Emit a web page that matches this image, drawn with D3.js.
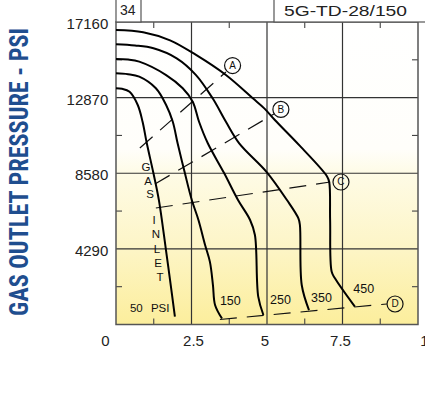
<!DOCTYPE html>
<html><head><meta charset="utf-8">
<script src="https://cdn.jsdelivr.net/npm/d3@7"></script>
<style>
html,body{margin:0;padding:0;background:#fff;}
svg{display:block;}
</style></head>
<body>
<svg id="chart" width="425" height="402"></svg>
<script>
// ---------------- data ----------------
const xTickValues = [0, 2.5, 5, 7.5, 10];
const xTickLabels = ["0", "2.5", "5", "7.5", "10"];
const yTickValues = [4290, 8580, 12870, 17160];
const yTickLabels = ["4290", "8580", "12870", "17160"];
const xMinorTicks = [1.25, 3.75, 6.25, 8.75];
const yMinorTicks = [2145, 6435, 10725, 15015];

// gas inlet pressure curves (PSI)
const inletNames = ["50", "150", "250", "350", "450"];
const x50  = [0, 0.2, 0.45, 0.72, 0.88, 1.02, 1.24, 1.42, 1.65, 1.79, 1.95];
const y50  = [13400, 13370, 13200, 12450, 11500, 10280, 8580, 7060, 4280, 2520, 440];
const x150 = [0, 0.4, 0.77, 1.32, 1.66, 1.88, 2.04, 2.28, 2.51, 2.73, 2.95, 3.11, 3.21, 3.28, 3.51];
const y150 = [14250, 14200, 14060, 13400, 12450, 11500, 10280, 8590, 7060, 5930, 4510, 3550, 2240, 1110, 340];
const x250 = [0, 0.4, 0.77, 1.66, 2.21, 2.54, 2.75, 3.04, 3.58, 4.04, 4.44, 4.60, 4.71, 4.88];
const y250 = [15060, 15030, 14910, 14150, 13400, 12640, 11500, 10280, 8590, 7060, 5930, 5080, 1580, 540];
const x350 = [0, 0.63, 1.24, 2.01, 2.65, 3.20, 3.64, 4.08, 4.99, 5.66, 6.04, 6.09, 6.15, 6.39];
const y350 = [15900, 15830, 15670, 15100, 14150, 12830, 11500, 10280, 8650, 7060, 6020, 5640, 2240, 820];
const x450 = [0, 0.90, 1.79, 2.65, 3.64, 4.53, 4.91, 5.26, 6.09, 6.98, 7.06, 7.09, 7.14, 7.25, 7.91];
const y450 = [16710, 16580, 16120, 15290, 14150, 12830, 12260, 11600, 10130, 8420, 8080, 5930, 3000, 2620, 1010];
const inletX = [x50, x150, x250, x350, x450];
const inletY = [y50, y150, y250, y350, y450];

// dashed operating-limit lines A-D
const limitNames = ["A", "B", "C", "D"];
const limitX0 = [0.79, 1.29, 1.32, 3.44];
const limitY0 = [10010, 7970, 6610, 284];
const limitX1 = [3.64, 5.23, 7.09, 8.97];
const limitY1 = [14320, 11940, 8084, 1163];
const markerX = [3.86, 5.46, 7.45, 9.24];
const markerY = [14690, 12200, 8084, 1163];

// ---------------- layout ----------------
const svg = d3.select("#chart");
const x = d3.scaleLinear().domain([0, 10]).range([116, 418]);
const y = d3.scaleLinear().domain([0, 17160]).range([324.5, 22]);
const FONT = "'Liberation Sans', Arial, Helvetica, sans-serif";

// background gradient
const defs = svg.append("defs");
const grad = defs.append("linearGradient").attr("id", "bg")
  .attr("x1", 0).attr("y1", 0).attr("x2", 0).attr("y2", 1);
[["0%", "#ffffff"], ["42%", "#fffefa"], ["50%", "#fefbe6"], ["75%", "#fdf5c6"], ["100%", "#fcee9c"]]
  .forEach(s => grad.append("stop").attr("offset", s[0]).attr("stop-color", s[1]));

svg.append("rect").attr("x", x(0)).attr("y", y(17160))
  .attr("width", x(10) - x(0)).attr("height", y(0) - y(17160))
  .attr("fill", "url(#bg)");

// grid
const gridColor = "#333";
svg.append("g").selectAll("line").data(xTickValues.slice(1, -1)).join("line")
  .attr("x1", d => x(d)).attr("x2", d => x(d)).attr("y1", y(0)).attr("y2", y(17160))
  .attr("stroke", gridColor).attr("stroke-width", 1.2);
svg.append("g").selectAll("line").data(yTickValues.slice(0, -1)).join("line")
  .attr("y1", d => y(d)).attr("y2", d => y(d)).attr("x1", x(0)).attr("x2", x(10))
  .attr("stroke", gridColor).attr("stroke-width", 1.2);

// minor ticks (inward)
const tk = svg.append("g").attr("stroke", "#444").attr("stroke-width", 1.1);
xMinorTicks.forEach(v => {
  tk.append("line").attr("x1", x(v)).attr("x2", x(v)).attr("y1", y(0)).attr("y2", y(0) - 6);
  tk.append("line").attr("x1", x(v)).attr("x2", x(v)).attr("y1", y(17160)).attr("y2", y(17160) + 6);
});
yMinorTicks.forEach(v => {
  tk.append("line").attr("y1", y(v)).attr("y2", y(v)).attr("x1", x(0)).attr("x2", x(0) + 6);
  tk.append("line").attr("y1", y(v)).attr("y2", y(v)).attr("x1", x(10)).attr("x2", x(10) - 6);
});

// frame
svg.append("rect").attr("x", x(0)).attr("y", y(17160))
  .attr("width", x(10) - x(0)).attr("height", y(0) - y(17160))
  .attr("fill", "none").attr("stroke", "#555").attr("stroke-width", 1.5);

// header boxes
svg.append("rect").attr("x", x(0)).attr("y", -2).attr("width", 25).attr("height", y(17160) + 2)
  .attr("fill", "#fff").attr("stroke", "#555").attr("stroke-width", 1.2);
svg.append("text").attr("x", x(0) + 4).attr("y", 14.5).attr("font-family", FONT)
  .attr("font-size", 14).attr("fill", "#222").text("34");
svg.append("rect").attr("x", 274).attr("y", -2).attr("width", 160).attr("height", y(17160) + 2)
  .attr("fill", "#fff").attr("stroke", "#555").attr("stroke-width", 1.2);
svg.append("text").attr("x", 284).attr("y", 16).attr("font-family", FONT)
  .attr("font-size", 14).attr("fill", "#222")
  .attr("textLength", 123).attr("lengthAdjust", "spacingAndGlyphs").text("5G-TD-28/150");

// axes
const xOffsets = [-11, 1.5, -2.5, -2.5, 10];
const xAxis = svg.append("g").attr("transform", `translate(0,${y(0)})`)
  .call(d3.axisBottom(x).tickValues(xTickValues).tickSize(0).tickPadding(10.5)
    .tickFormat((d, i) => xTickLabels[i]));
xAxis.select(".domain").remove();
xAxis.selectAll("text").attr("font-family", FONT).attr("font-size", 15).attr("fill", "#222")
  .attr("dx", (d, i) => xOffsets[i]);

const yAxis = svg.append("g").attr("transform", `translate(${x(0)},0)`)
  .call(d3.axisLeft(y).tickValues(yTickValues).tickSize(0).tickPadding(7.7)
    .tickFormat((d, i) => yTickLabels[i]));
yAxis.select(".domain").remove();
yAxis.selectAll("text").attr("font-family", FONT).attr("font-size", 15).attr("fill", "#222")
  .attr("dy", "0.44em");

// y title
svg.append("text")
  .attr("transform", "translate(28,172) rotate(-90)")
  .attr("text-anchor", "middle")
  .attr("font-family", "'Liberation Sans Narrow','Roboto Condensed','DejaVu Sans Condensed','Liberation Sans',Arial,sans-serif")
  .attr("font-weight", "bold").attr("font-size", 26).attr("fill", "#1f4e8f")
  .attr("textLength", 288).attr("lengthAdjust", "spacingAndGlyphs")
  .text("GAS OUTLET PRESSURE - PSI");

// dashed limit lines
const limG = svg.append("g");
limitNames.forEach((n, i) => {
  limG.append("line")
    .attr("x1", x(limitX0[i])).attr("y1", y(limitY0[i]))
    .attr("x2", x(limitX1[i])).attr("y2", y(limitY1[i]))
    .attr("stroke", "#111").attr("stroke-width", 1.2).attr("stroke-dasharray", "17,10");
  limG.append("circle").attr("cx", x(markerX[i])).attr("cy", y(markerY[i])).attr("r", 8)
    .attr("fill", "none").attr("stroke", "#111").attr("stroke-width", 1.2);
  limG.append("text").attr("x", x(markerX[i])).attr("y", y(markerY[i]))
    .attr("text-anchor", "middle").attr("dominant-baseline", "central")
    .attr("font-family", FONT).attr("font-size", 10).attr("fill", "#111").text(n);
});

// inlet curves
const lineGen = d3.line().x(d => x(d[0])).y(d => y(d[1])).curve(d3.curveCatmullRom.alpha(0.5));
const curveG = svg.append("g");
inletNames.forEach((n, i) => {
  const pts = inletX[i].map((v, j) => [v, inletY[i][j]]);
  curveG.append("path").attr("d", lineGen(pts)).attr("fill", "none")
    .attr("stroke", "#000").attr("stroke-width", 2).attr("stroke-linejoin", "round");
});

// curve labels (positions in data units)
const labelAtX = [0.46, 3.44, 5.10, 6.46, 7.86];
const labelAtY = [700, 1080, 1160, 1300, 1770];
const labelSize = [11.5, 12.5, 12.5, 12.5, 12.5];
inletNames.forEach((n, i) => {
  const t = svg.append("text").attr("x", x(labelAtX[i])).attr("y", y(labelAtY[i]))
    .attr("font-family", FONT).attr("font-size", labelSize[i]).attr("fill", "#111");
  if (i === 0) { t.append("tspan").text(n); t.append("tspan").attr("dx", 5).text(" PSI"); }
  else t.text(n);
});

// "GAS INLET" vertical lettering
const inletLetters = ["G", "A", "S", "I", "N", "L", "E", "T"];
const letterX = [0.99, 1.06, 1.13, 1.26, 1.32, 1.36, 1.39, 1.46];
const letterY = [8935, 8140, 7375, 5928, 5134, 4283, 3489, 2694];
inletLetters.forEach((c, i) => {
  svg.append("text").attr("x", x(letterX[i])).attr("y", y(letterY[i]))
    .attr("text-anchor", "middle").attr("dominant-baseline", "central")
    .attr("font-family", FONT).attr("font-size", 11.5).attr("fill", "#111").text(c);
});
</script>
</body></html>
